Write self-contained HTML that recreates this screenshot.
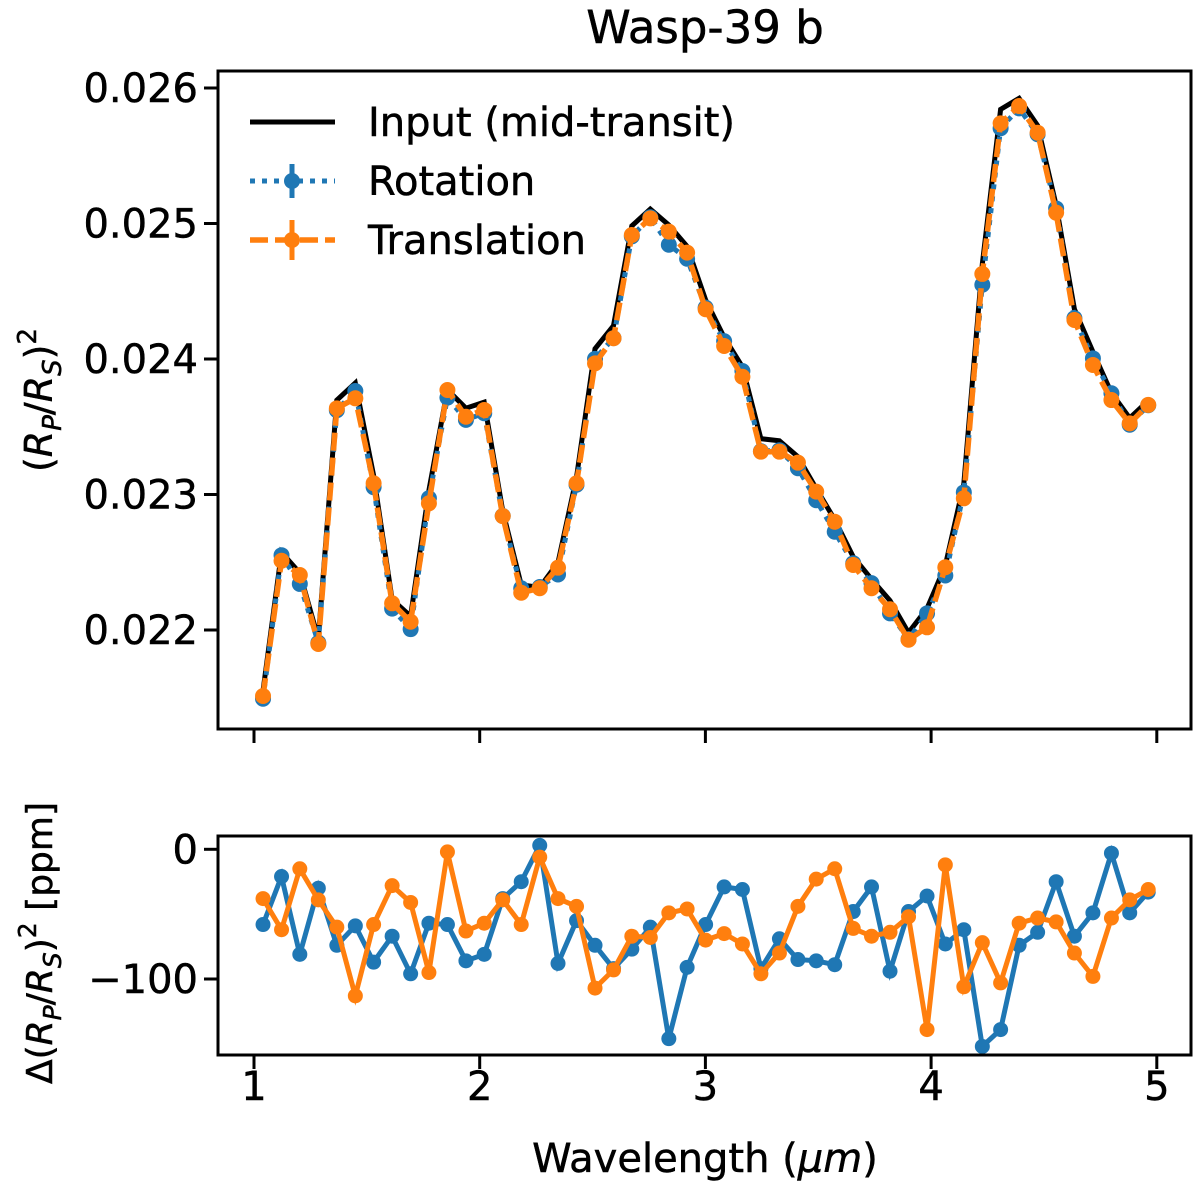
<!DOCTYPE html>
<html><head><meta charset="utf-8"><style>
html,body{margin:0;padding:0;background:#fff;}
svg text{font-family:"DejaVu Sans","Liberation Sans",sans-serif;fill:#000;stroke:#000;stroke-width:0.5px;}
</style></head><body>
<svg id="chart" width="1200" height="1189" viewBox="0 0 1200 1189" xmlns="http://www.w3.org/2000/svg">
<text x="705" y="43" font-size="45" text-anchor="middle">Wasp-39 b</text>
<g id="topPanel"></g>
<g id="botPanel"></g>
<text transform="translate(52,400) rotate(-90)" font-size="38" text-anchor="middle">(<tspan font-style="italic">R</tspan><tspan font-size="26" font-style="italic" dy="9">P</tspan><tspan dy="-9">/</tspan><tspan font-style="italic">R</tspan><tspan font-size="26" font-style="italic" dy="9">S</tspan><tspan dy="-9">)</tspan><tspan font-size="26" dy="-16">2</tspan></text>
<text transform="translate(52,943) rotate(-90)" font-size="36" text-anchor="middle">Δ(<tspan font-style="italic">R</tspan><tspan font-size="25" font-style="italic" dy="9">P</tspan><tspan dy="-9">/</tspan><tspan font-style="italic">R</tspan><tspan font-size="25" font-style="italic" dy="9">S</tspan><tspan dy="-9">)</tspan><tspan font-size="25" dy="-16">2</tspan><tspan dy="16"> [ppm]</tspan></text>
<text x="705" y="1172" font-size="40" text-anchor="middle">Wavelength (<tspan font-style="italic">μm</tspan>)</text>
</svg>
<script>
const wavelengths=[1.040,1.122,1.203,1.285,1.367,1.449,1.530,1.612,1.694,1.775,1.857,1.939,2.020,2.102,2.184,2.266,2.347,2.429,2.511,2.593,2.674,2.756,2.838,2.919,3.001,3.083,3.164,3.246,3.328,3.410,3.491,3.573,3.655,3.736,3.818,3.900,3.982,4.063,4.145,4.227,4.308,4.390,4.472,4.554,4.635,4.717,4.799,4.880,4.962];
// depths in ppm
const inputDepth=[21551,22573,22421,21936,23696,23823,23141,22225,22102,23030,23773,23637,23681,22880,22333,22314,22498,23127,24075,24246,24982,25106,24989,24831,24437,24161,23942,23412,23396,23279,23044,22814,22541,22375,22217,21980,22159,22475,23078,24700,25842,25924,25723,25136,24368,24054,23750,23564,23692];
const rotationDepth=[21493,22552,22340,21906,23622,23764,23054,22158,22006,22973,23715,23551,23600,22842,22308,22317,22410,23072,24001,24154,24905,25046,24843,24740,24379,24132,23911,23320,23327,23194,22958,22725,22493,22346,22123,21932,22123,22402,23016,24548,25703,25850,25659,25111,24301,24005,23747,23515,23659];
const translationDepth=[21513,22511,22406,21897,23636,23710,23083,22197,22061,22935,23771,23574,23624,22841,22275,22308,22460,23083,23968,24153,24915,25038,24940,24785,24367,24096,23869,23316,23316,23235,23021,22799,22480,22308,22153,21928,22020,22463,22972,24628,25739,25867,25670,25080,24288,23956,23697,23525,23661];
const rotationResid=[-58,-21,-81,-30,-74,-59,-87,-67,-96,-57,-58,-86,-81,-38,-25,3,-88,-55,-74,-92,-77,-60,-146,-91,-58,-29,-31,-92,-69,-85,-86,-89,-48,-29,-94,-48,-36,-73,-62,-152,-139,-74,-64,-25,-67,-49,-3,-49,-33];
const translationResid=[-38,-62,-15,-39,-60,-113,-58,-28,-41,-95,-2,-63,-57,-39,-58,-6,-38,-44,-107,-93,-67,-68,-49,-46,-70,-65,-73,-96,-80,-44,-23,-15,-61,-67,-64,-52,-139,-12,-106,-72,-103,-57,-53,-56,-80,-98,-53,-39,-31];
const xTicks=[1,2,3,4,5];
const xTickLabels=["1","2","3","4","5"];
const topTicks=[22000,23000,24000,25000,26000];
const topTickLabels=["0.022","0.023","0.024","0.025","0.026"];
const botTicks=[0,-100];
const botTickLabels=["0","\u2212100"];

const NS="http://www.w3.org/2000/svg";
const L=218,R=1191;
const T1=71,B1=729,T2=836,B2=1055;
const xS=w=>254+(w-1)*225.7;
const yTop=v=>630-(v-22000)*0.1355;
const yBot=v=>849.3-v*1.297;
function mk(tag,attrs,parent){const e=document.createElementNS(NS,tag);for(const k in attrs)e.setAttribute(k,attrs[k]);parent.appendChild(e);return e;}
const topG=document.getElementById('topPanel'),botG=document.getElementById('botPanel');
const blue="#1f77b4",orange="#ff7f0e";

function pathD(xs,ys,fy){return xs.map((w,i)=>(i?'L':'M')+xS(w).toFixed(1)+','+fy(ys[i]).toFixed(1)).join(' ');}

let p=mk('path',{d:pathD(wavelengths,inputDepth,yTop),fill:'none',stroke:'#000','stroke-width':5},topG);


p=mk('path',{d:pathD(wavelengths,rotationDepth,yTop),fill:'none',stroke:blue,'stroke-width':5,'stroke-dasharray':'5 7'},topG);


wavelengths.forEach((w,i)=>{const c=mk('circle',{cx:xS(w),cy:yTop(rotationDepth[i]),r:8,fill:blue},topG);

});
p=mk('path',{d:pathD(wavelengths,translationDepth,yTop),fill:'none',stroke:orange,'stroke-width':5.5,'stroke-dasharray':'18 7'},topG);


wavelengths.forEach((w,i)=>{const c=mk('circle',{cx:xS(w),cy:yTop(translationDepth[i]),r:8,fill:orange},topG);

});

p=mk('path',{d:pathD(wavelengths,rotationResid,yBot),fill:'none',stroke:blue,'stroke-width':5},botG);


wavelengths.forEach((w,i)=>{const c=mk('circle',{cx:xS(w),cy:yBot(rotationResid[i]),r:7.5,fill:blue},botG);

});
p=mk('path',{d:pathD(wavelengths,translationResid,yBot),fill:'none',stroke:orange,'stroke-width':5},botG);


wavelengths.forEach((w,i)=>{const c=mk('circle',{cx:xS(w),cy:yBot(translationResid[i]),r:7.5,fill:orange},botG);

});

let f=mk('rect',{x:L,y:T1,width:R-L,height:B1-T1,fill:'none',stroke:'#000','stroke-width':3},topG);


f=mk('rect',{x:L,y:T2,width:R-L,height:B2-T2,fill:'none',stroke:'#000','stroke-width':3},botG);



xTicks.forEach((t,i)=>{
  let a=mk('line',{x1:xS(t),x2:xS(t),y1:B1,y2:B1+14,stroke:'#000','stroke-width':3},topG);
  
  
  a=mk('line',{x1:xS(t),x2:xS(t),y1:B2,y2:B2+14,stroke:'#000','stroke-width':3},botG);
  
  
  const tx=mk('text',{x:xS(t),y:B2+45,'font-size':40,'text-anchor':'middle'},botG);tx.textContent=xTickLabels[i];
  
  
});
topTicks.forEach((t,i)=>{
  const a=mk('line',{x1:L-14,x2:L,y1:yTop(t),y2:yTop(t),stroke:'#000','stroke-width':3},topG);
  
  
  const tx=mk('text',{x:L-20,y:yTop(t)+14,'font-size':40,'text-anchor':'end'},topG);tx.textContent=topTickLabels[i];
  
  
});
botTicks.forEach((t,i)=>{
  const a=mk('line',{x1:L-14,x2:L,y1:yBot(t),y2:yBot(t),stroke:'#000','stroke-width':3},botG);
  
  
  const tx=mk('text',{x:L-20,y:yBot(t)+14,'font-size':40,'text-anchor':'end'},botG);tx.textContent=botTickLabels[i];
  
  
});

const lg=mk('g',{},topG);


let e=mk('line',{x1:250,x2:335,y1:122,y2:122,stroke:'#000','stroke-width':5},lg);


e=mk('line',{x1:250,x2:335,y1:181,y2:181,stroke:blue,'stroke-width':5,'stroke-dasharray':'5 7'},lg);


mk('line',{x1:292,x2:292,y1:164,y2:198,stroke:blue,'stroke-width':5},lg);
mk('circle',{cx:292,cy:181,r:8,fill:blue},lg);
e=mk('line',{x1:250,x2:335,y1:240,y2:240,stroke:orange,'stroke-width':5.5,'stroke-dasharray':'18 7'},lg);


mk('line',{x1:292,x2:292,y1:220,y2:260,stroke:orange,'stroke-width':5},lg);
mk('circle',{cx:292,cy:240,r:8,fill:orange},lg);
[["Input (mid-transit)",136,'legend-input-label'],["Rotation",195,'legend-rotation-label'],["Translation",254,'legend-translation-label']].forEach(d=>{
  const tx=mk('text',{x:368,y:d[1],'font-size':40},lg);tx.textContent=d[0];
  
  
});
</script>
</body></html>
